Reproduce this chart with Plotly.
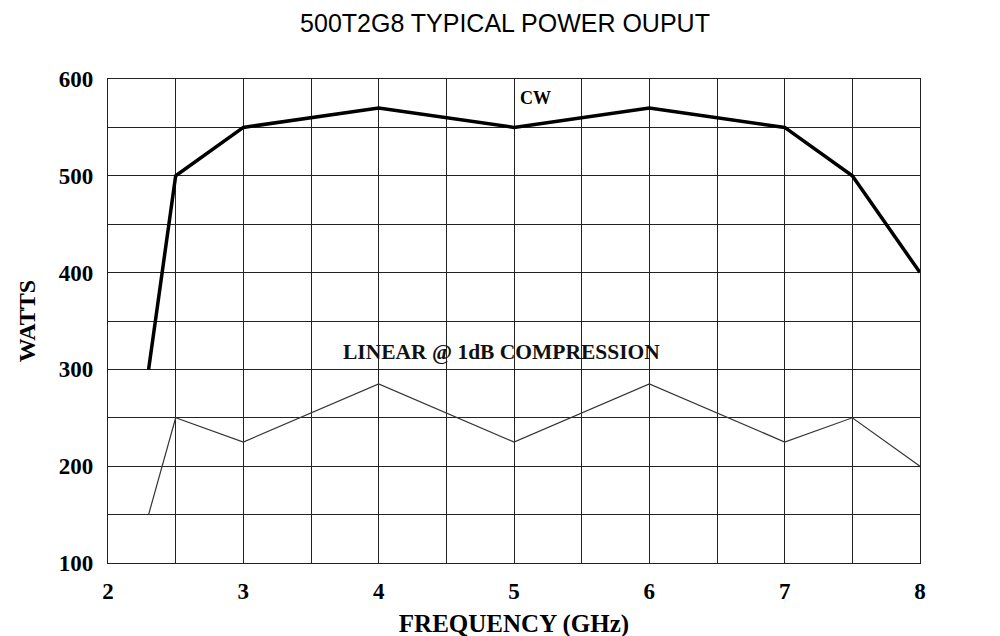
import plotly.graph_objects as go

freq = [2.3, 2.5, 3, 4, 5, 6, 7, 7.5, 8]
cw_watts = [300, 500, 550, 570, 550, 570, 550, 500, 400]
linear_watts = [150, 250, 225, 285, 225, 285, 225, 250, 200]

x_ticks = [2, 3, 4, 5, 6, 7, 8]
y_ticks = [100, 200, 300, 400, 500, 600]

serif_bold = "Liberation Serif"

fig = go.Figure()
fig.add_trace(go.Scatter(x=freq, y=cw_watts, mode="lines",
                         line=dict(color="black", width=3.5), showlegend=False))
fig.add_trace(go.Scatter(x=freq, y=linear_watts, mode="lines",
                         line=dict(color="#333333", width=1.2), showlegend=False))

fig.add_annotation(x=5.156, y=580, text="<b>CW</b>", showarrow=False,
                   font=dict(family=serif_bold, size=18, color="black"))
fig.add_annotation(x=4.905, y=318, text="<b>LINEAR @ 1dB COMPRESSION</b>", showarrow=False,
                   font=dict(family=serif_bold, size=21.5, color="#111"))

grid_color = "#222222"
fig.update_xaxes(range=[2, 8], tickvals=x_ticks, ticktext=[str(v) for v in x_ticks],
                 showgrid=True, gridcolor=grid_color, gridwidth=1.3,
                 minor=dict(dtick=0.5, showgrid=True, gridcolor=grid_color, gridwidth=1.3),
                 showline=True, linecolor=grid_color, linewidth=1.3, mirror=True,
                 zeroline=False, ticks="", ticklabelstandoff=7, automargin=False,
                 tickfont=dict(family=serif_bold, size=23, color="black", weight="bold"),
                 title=dict(text="<b>FREQUENCY (GHz)</b>", standoff=11,
                            font=dict(family=serif_bold, size=25, color="black")))
fig.update_yaxes(range=[100, 600], tickvals=y_ticks, ticktext=[str(v) for v in y_ticks],
                 showgrid=True, gridcolor=grid_color, gridwidth=1.3,
                 minor=dict(dtick=50, showgrid=True, gridcolor=grid_color, gridwidth=1.3),
                 showline=True, linecolor=grid_color, linewidth=1.3, mirror=True,
                 zeroline=False, ticks="", ticklabelstandoff=9, automargin=False,
                 tickfont=dict(family=serif_bold, size=23, color="black", weight="bold"),
                 title=dict(text="<b>WATTS</b>", standoff=16,
                            font=dict(family=serif_bold, size=24, color="black")))

fig.update_layout(
    width=1000, height=636,
    margin=dict(l=100, r=88, t=71, b=81, autoexpand=False),
    paper_bgcolor="white", plot_bgcolor="white",
    title=dict(text="500T2G8 TYPICAL POWER OUPUT", x=0.497, xanchor="center", y=0.976, yanchor="middle",
               automargin=False,
               font=dict(family="Liberation Sans Narrow, Liberation Sans", size=25, color="black")),
)

fig.write_html("out.html")
